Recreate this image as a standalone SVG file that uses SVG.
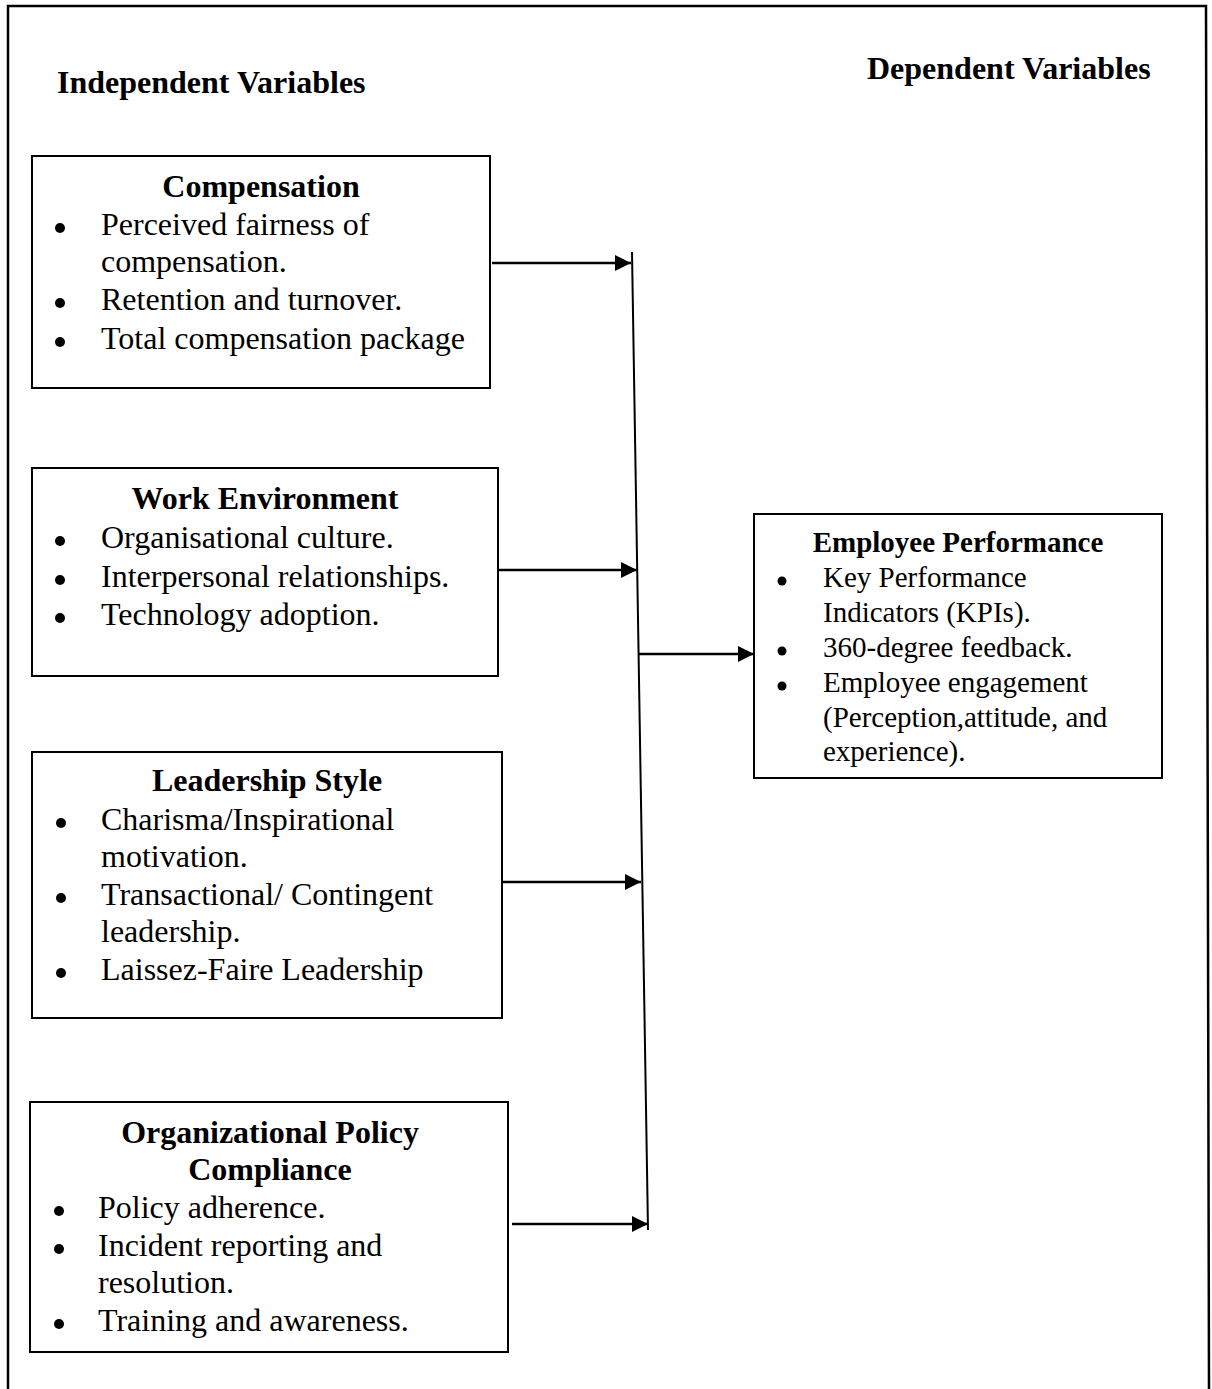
<svg xmlns="http://www.w3.org/2000/svg" width="1212" height="1389" viewBox="0 0 1212 1389">
<defs>
<style>
text{font-family:"Liberation Serif","Times New Roman",serif;fill:#000}
.h{font-size:32px;font-weight:bold}
.b{font-size:32px}
.hs{font-size:29px;font-weight:bold}
.bs{font-size:29px}
.c{text-anchor:middle}
.box{fill:#fff;stroke:#000;stroke-width:2}
.con{stroke:#000;stroke-width:2.5;fill:none}
.dot{fill:#000}
</style>
<marker id="ah" markerUnits="userSpaceOnUse" markerWidth="18" markerHeight="16" refX="16" refY="8" orient="auto">
<path d="M0,0 L16,8 L0,16 Z" fill="#000"/>
</marker>
</defs>
<rect width="1212" height="1389" fill="#fff"/>
<path d="M8,1389 L8,6 L1206,6 L1209,1389" fill="none" stroke="#000" stroke-width="2.5"/>
<g id="labels">
<text class="h" x="57" y="93">Independent Variables</text>
<text class="h" x="867" y="79">Dependent Variables</text>
</g>
<g id="compensation">
<rect class="box" x="32" y="156" width="458" height="232"/>
<text class="h c" x="261" y="197">Compensation</text>
<circle class="dot" cx="60" cy="228" r="5"/>
<text class="b" x="101" y="235">Perceived fairness of</text>
<text class="b" x="101" y="272">compensation.</text>
<circle class="dot" cx="60" cy="303" r="5"/>
<text class="b" x="101" y="310">Retention and turnover.</text>
<circle class="dot" cx="60" cy="342" r="5"/>
<text class="b" x="101" y="349">Total compensation package</text>
</g>
<g id="work-environment">
<rect class="box" x="32" y="468" width="466" height="208"/>
<text class="h c" x="265" y="509">Work Environment</text>
<circle class="dot" cx="60" cy="541" r="5"/>
<text class="b" x="101" y="548">Organisational culture.</text>
<circle class="dot" cx="60" cy="580" r="5"/>
<text class="b" x="101" y="587">Interpersonal relationships.</text>
<circle class="dot" cx="60" cy="618" r="5"/>
<text class="b" x="101" y="625">Technology adoption.</text>
</g>
<g id="leadership-style">
<rect class="box" x="32" y="752" width="470" height="266"/>
<text class="h c" x="267" y="791">Leadership Style</text>
<circle class="dot" cx="61" cy="823" r="5"/>
<text class="b" x="101" y="830">Charisma/Inspirational</text>
<text class="b" x="101" y="867">motivation.</text>
<circle class="dot" cx="61" cy="898" r="5"/>
<text class="b" x="101" y="905">Transactional/ Contingent</text>
<text class="b" x="101" y="942">leadership.</text>
<circle class="dot" cx="61" cy="973" r="5"/>
<text class="b" x="101" y="980">Laissez-Faire Leadership</text>
</g>
<g id="organizational-policy-compliance">
<rect class="box" x="30" y="1102" width="478" height="250"/>
<text class="h c" x="270" y="1143">Organizational Policy</text>
<text class="h c" x="270" y="1180">Compliance</text>
<circle class="dot" cx="59" cy="1211" r="5"/>
<text class="b" x="98" y="1218">Policy adherence.</text>
<circle class="dot" cx="59" cy="1249" r="5"/>
<text class="b" x="98" y="1256">Incident reporting and</text>
<text class="b" x="98" y="1293">resolution.</text>
<circle class="dot" cx="59" cy="1324" r="5"/>
<text class="b" x="98" y="1331">Training and awareness.</text>
</g>
<g id="employee-performance">
<rect class="box" x="754" y="514" width="408" height="264"/>
<text class="hs c" x="958" y="552">Employee Performance</text>
<circle class="dot" cx="782" cy="581" r="4.5"/>
<text class="bs" x="823" y="587">Key Performance</text>
<text class="bs" x="823" y="622">Indicators (KPIs).</text>
<circle class="dot" cx="782" cy="651" r="4.5"/>
<text class="bs" x="823" y="657">360-degree feedback.</text>
<circle class="dot" cx="782" cy="686" r="4.5"/>
<text class="bs" x="823" y="692">Employee engagement</text>
<text class="bs" x="823" y="727">(Perception,attitude, and</text>
<text class="bs" x="823" y="761">experience).</text>
</g>
<g id="connectors">
<line class="con" x1="632" y1="252" x2="648" y2="1230" style="stroke-width:2"/>
<line class="con" x1="492" y1="263" x2="631" y2="263" marker-end="url(#ah)"/>
<line class="con" x1="498" y1="570" x2="637" y2="570" marker-end="url(#ah)"/>
<line class="con" x1="502" y1="882" x2="641" y2="882" marker-end="url(#ah)"/>
<line class="con" x1="512" y1="1224" x2="648" y2="1224" marker-end="url(#ah)"/>
<line class="con" x1="639" y1="654" x2="754" y2="654" marker-end="url(#ah)"/>
</g>
</svg>
